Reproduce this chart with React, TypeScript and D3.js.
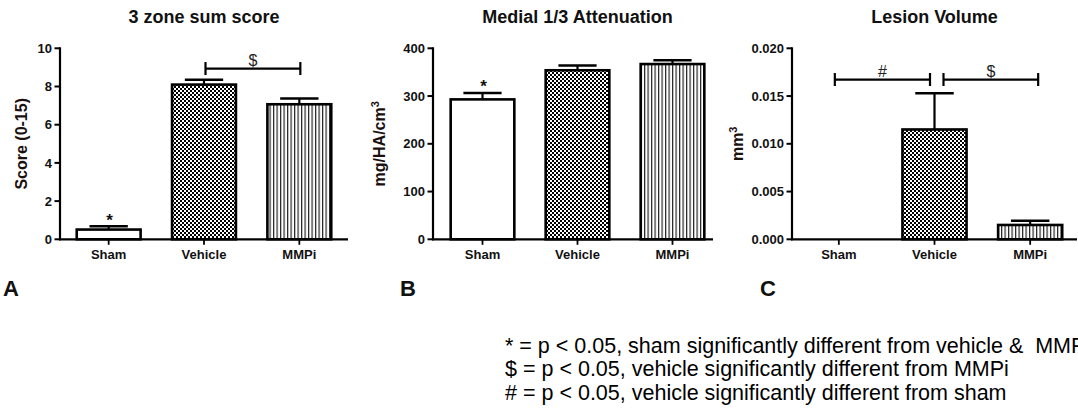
import React from "react";
import * as d3 from "d3";

// Treatment groups shared by all three panels
const categories = ["Sham", "Vehicle", "MMPi"];

// Panel A: 3 zone sum score (mean, SEM)
const scoreMeans = [0.51, 8.1, 7.07];
const scoreSem = [0.17, 0.25, 0.3];
const scoreTicks = [0, 2, 4, 6, 8, 10];

// Panel B: medial 1/3 attenuation, mg/HA/cm3 (mean, SEM)
const attenMeans = [293, 354, 367];
const attenSem = [13.5, 10, 8];
const attenTicks = [0, 100, 200, 300, 400];

// Panel C: lesion volume, mm3 (mean, SEM)
const lesionMeans = [0, 0.0115, 0.0015];
const lesionSem = [0, 0.0038, 0.00045];
const lesionTicks = [0, 0.005, 0.01, 0.015, 0.02];

// Significance brackets: [from, to, symbol, height in data units]
const scoreBrackets: [string, string, string, number][] = [["Vehicle", "MMPi", "$", 8.94]];
const lesionBrackets: [string, string, string, number][] = [
  ["Sham", "Vehicle", "#", 0.01673],
  ["Vehicle", "MMPi", "$", 0.01673],
];

// Groups marked with "*" above their error bar
const scoreStars = ["Sham"];
const attenStars = ["Sham"];

const footnotes = [
  "* = p < 0.05, sham significantly different from vehicle &  MMPi",
  "$ = p < 0.05, vehicle significantly different from MMPi",
  "# = p < 0.05, vehicle significantly different from sham",
];

const FONT = "'Liberation Sans', Arial, Helvetica, sans-serif";
const Y_TOP = 48.3;
const Y_BOTTOM = 239.3;

const fills = ["#ffffff", "url(#checker)", "url(#vlines)"];

type PanelProps = {
  title: string;
  letter: string;
  means: number[];
  sems: number[];
  ticks: number[];
  tickFormat: (v: number) => string;
  axisX: number;
  bandRange: [number, number];
  axisEnd: number;
  yLabel: React.ReactNode;
  yLabelX: number;
  letterX: number;
  brackets: [string, string, string, number][];
  bracketNudge: [number, number][];
  stars: string[];
};

function Panel(p: PanelProps) {
  const x = d3
    .scaleBand<string>()
    .domain(categories)
    .range(p.bandRange)
    .paddingInner(0.33)
    .paddingOuter(0.165);
  const y = d3
    .scaleLinear()
    .domain([0, p.ticks[p.ticks.length - 1]])
    .range([Y_BOTTOM, Y_TOP]);
  const bw = x.bandwidth();
  const center = (c: string) => (x(c) as number) + bw / 2;
  const capW = bw * 0.6;
  const titleX = (p.bandRange[0] + p.bandRange[1]) / 2;

  return (
    <g>
      <text
        x={titleX}
        y={22.5}
        textAnchor="middle"
        fontFamily={FONT}
        fontWeight="bold"
        fontSize={18}
        fill="#111"
      >
        {p.title}
      </text>

      {/* bars */}
      {categories.map((c, i) => {
        const h = Y_BOTTOM - y(p.means[i]);
        if (h <= 0) return null;
        return (
          <rect
            key={c}
            x={x(c)}
            y={y(p.means[i])}
            width={bw}
            height={h}
            fill={fills[i]}
            stroke="#000"
            strokeWidth={2.6}
          />
        );
      })}

      {/* upward SEM error bars */}
      {categories.map((c, i) => {
        if (p.sems[i] <= 0) return null;
        const cx = center(c);
        const top = y(p.means[i] + p.sems[i]);
        return (
          <g key={c} stroke="#000">
            <line x1={cx} x2={cx} y1={y(p.means[i])} y2={top} strokeWidth={2.2} />
            <line x1={cx - capW / 2} x2={cx + capW / 2} y1={top} y2={top} strokeWidth={2.6} />
          </g>
        );
      })}

      {/* significance stars */}
      {p.stars.map((c) => {
        const i = categories.indexOf(c);
        return (
          <text
            key={c}
            x={center(c) + 1}
            y={y(p.means[i] + p.sems[i]) - 0.5}
            textAnchor="middle"
            fontFamily={FONT}
            fontWeight="bold"
            fontSize={17}
            fill="#111"
          >
            *
          </text>
        );
      })}

      {/* comparison brackets */}
      {p.brackets.map(([a, b, sym, v], k) => {
        const x1 = center(a) + p.bracketNudge[k][0];
        const x2 = center(b) + p.bracketNudge[k][1];
        const yy = y(v);
        return (
          <g key={k} stroke="#000" strokeWidth={2.2}>
            <line x1={x1} x2={x2} y1={yy} y2={yy} />
            <line x1={x1} x2={x1} y1={yy - 6.5} y2={yy + 6.5} />
            <line x1={x2} x2={x2} y1={yy - 6.5} y2={yy + 6.5} />
            <text
              x={(x1 + x2) / 2}
              y={yy - 3}
              textAnchor="middle"
              fontFamily={FONT}
              fontSize={16}
              fill="#222"
              stroke="none"
            >
              {sym}
            </text>
          </g>
        );
      })}

      {/* y axis */}
      <line x1={p.axisX} x2={p.axisX} y1={Y_TOP - 1} y2={Y_BOTTOM + 1} stroke="#000" strokeWidth={2.2} />
      {p.ticks.map((t) => (
        <g key={t}>
          <line x1={p.axisX - 5.5} x2={p.axisX} y1={y(t)} y2={y(t)} stroke="#000" strokeWidth={2} />
          <text
            x={p.axisX - 8}
            y={y(t) + 4.6}
            textAnchor="end"
            fontFamily={FONT}
            fontWeight="bold"
            fontSize={13}
            fill="#111"
          >
            {p.tickFormat(t)}
          </text>
        </g>
      ))}

      {/* x axis */}
      <line x1={p.axisX - 1} x2={p.axisEnd} y1={Y_BOTTOM} y2={Y_BOTTOM} stroke="#000" strokeWidth={2.2} />
      {categories.map((c) => (
        <g key={c}>
          <line x1={center(c)} x2={center(c)} y1={Y_BOTTOM} y2={Y_BOTTOM + 5.5} stroke="#000" strokeWidth={1.8} />
          <text
            x={center(c)}
            y={259}
            textAnchor="middle"
            fontFamily={FONT}
            fontWeight="bold"
            fontSize={13}
            fill="#111"
          >
            {c}
          </text>
        </g>
      ))}

      {/* y axis title */}
      <text
        transform={`translate(${p.yLabelX},${(Y_TOP + Y_BOTTOM) / 2}) rotate(-90)`}
        textAnchor="middle"
        fontFamily={FONT}
        fontWeight="bold"
        fontSize={16}
        fill="#1a1010"
      >
        {p.yLabel}
      </text>

      {/* panel letter */}
      <text x={p.letterX} y={296} fontFamily={FONT} fontWeight="bold" fontSize={22} fill="#111">
        {p.letter}
      </text>
    </g>
  );
}

export default function App() {
  const fmtInt = d3.format("d");
  const fmt3 = d3.format(".3f");
  return (
    <svg
      width={1078}
      height={408}
      viewBox="0 0 1078 408"
      style={{ position: "absolute", left: 0, top: 0, background: "#fff", display: "block" }}
    >
      <defs>
        <pattern id="checker" patternUnits="userSpaceOnUse" width={4} height={4}>
          <rect width={4} height={4} fill="#fff" shapeRendering="crispEdges" />
          <rect x={0} y={0} width={2} height={2} fill="#000" shapeRendering="crispEdges" />
          <rect x={2} y={2} width={2} height={2} fill="#000" shapeRendering="crispEdges" />
        </pattern>
        <pattern id="vlines" patternUnits="userSpaceOnUse" width={3.5} height={10}>
          <rect width={3.5} height={10} fill="#fff" />
          <rect x={0} y={0} width={1.2} height={10} fill="#222" />
        </pattern>
      </defs>
      <rect width={1078} height={408} fill="#fff" />

      <Panel
        title="3 zone sum score"
        letter="A"
        means={scoreMeans}
        sems={scoreSem}
        ticks={scoreTicks}
        tickFormat={fmtInt}
        axisX={60}
        bandRange={[61, 347]}
        axisEnd={348}
        yLabel="Score (0-15)"
        yLabelX={27}
        letterX={3}
        brackets={scoreBrackets}
        bracketNudge={[[1.5, 1]]}
        stars={scoreStars}
      />
      <Panel
        title="Medial 1/3 Attenuation"
        letter="B"
        means={attenMeans}
        sems={attenSem}
        ticks={attenTicks}
        tickFormat={fmtInt}
        axisX={433}
        bandRange={[435, 720]}
        axisEnd={713}
        yLabel={
          <>
            mg/HA/cm
            <tspan baselineShift="super" fontSize={11}>
              3
            </tspan>
          </>
        }
        yLabelX={385}
        letterX={400}
        brackets={[]}
        bracketNudge={[]}
        stars={attenStars}
      />
      <Panel
        title="Lesion Volume"
        letter="C"
        means={lesionMeans}
        sems={lesionSem}
        ticks={lesionTicks}
        tickFormat={fmt3}
        axisX={792}
        bandRange={[791, 1078]}
        axisEnd={1077}
        yLabel={
          <>
            mm
            <tspan baselineShift="super" fontSize={11}>
              3
            </tspan>
          </>
        }
        yLabelX={743}
        letterX={760}
        brackets={lesionBrackets}
        bracketNudge={[
          [-4, -4.5],
          [9, 8],
        ]}
        stars={[]}
      />

      {footnotes.map((t, i) => (
        <text
          key={i}
          x={505}
          y={352.5 + i * 23.5}
          fontFamily={FONT}
          fontSize={21.5}
          fill="#000"
          style={{ whiteSpace: "pre" }}
        >
          {t}
        </text>
      ))}
    </svg>
  );
}
